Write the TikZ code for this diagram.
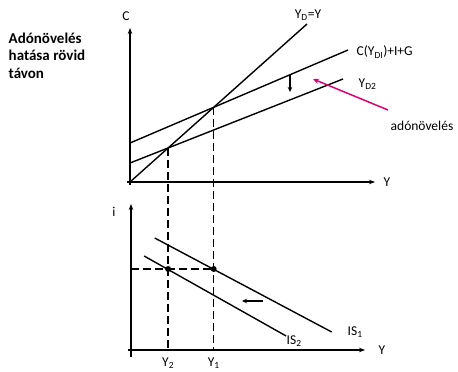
\documentclass[tikz,border=0pt]{standalone}
\usepackage{fontspec}
\setmainfont{Carlito}
\usetikzlibrary{arrows.meta,calc}
\definecolor{mag}{RGB}{214,0,112}
\begin{document}
\begin{tikzpicture}[x=1pt,y=-1pt,line width=1.4pt,
  ax/.style={-{Stealth[length=6pt,width=4.5pt]}},
  dsh/.style={dash pattern=on 8pt off 4pt,line width=1.3pt},
  sarrow/.style={-{Stealth[length=5pt,width=4.5pt]},line width=1.2pt},
  lbl/.style={font=\fontsize{13.5}{16}\selectfont,inner sep=0pt},
  ttl/.style={font=\fontsize{15}{17.5}\selectfont\bfseries,inner sep=0pt,align=left}]
\useasboundingbox (0,0) rectangle (458,372);
% title
\node[ttl,anchor=north west] (title) at (8,32) {Adónövelés\\hatása rövid\\távon};
% top panel axes
\coordinate (cbot) at (130,185);
\coordinate (ctop) at (130,28);
\coordinate (yleft) at (127,182);
\coordinate (yright) at (375,182);
\draw[ax] (cbot) -- (ctop);
\draw[ax] (yleft) -- (yright);
\node[lbl] (Clab) at (126,16) {C};
\node[lbl] (Ylab) at (387,182) {Y};
% lines
\coordinate (d0) at (130,182); \coordinate (d1) at (307,24);
\coordinate (u0) at (130,143); \coordinate (u1) at (348,50);
\coordinate (l0) at (130,163); \coordinate (l1) at (343,79);
\draw (d0) -- (d1);
\draw (u0) -- (u1);
\draw (l0) -- (l1);
\coordinate (E1) at (intersection of d0--d1 and u0--u1);
\coordinate (E2) at (intersection of d0--d1 and l0--l1);
\node[lbl] (YDY) at (308,15) {Y\textsubscript{D}=Y};
\node[lbl,anchor=west] (AD) at (356,52) {C(Y\textsubscript{DI})+I+G};
\node[lbl,anchor=west] (YD2) at (358,84) {Y\textsubscript{D2}};
\node[lbl,anchor=west] (adon) at (390,126) {adónövelés};
% arrows top
\coordinate (da0) at (290,75); \coordinate (da1) at (290,92);
\draw[sarrow] (da0) -- (da1);
\coordinate (m0) at (388,110); \coordinate (m1) at (313,79);
\draw[mag,line width=1.5pt,-{Stealth[length=6pt,width=5pt]}] (m0) -- (m1);
% lower panel axes
\coordinate (ibot) at (131,357);
\coordinate (itop) at (131,204);
\coordinate (bleft) at (128,350);
\coordinate (bright) at (365,350);
\draw[ax] (ibot) -- (itop);
\draw[ax] (bleft) -- (bright);
\node[lbl] (ilab) at (114,212) {i};
\node[lbl] (Y2lab) at (382,350) {Y};
% dashed and points
\coordinate (base) at (0,350);
\coordinate (lvl) at (0,269);
\coordinate (iax) at (131,269);
\coordinate (P1) at (E1 |- lvl);
\coordinate (P2) at (E2 |- lvl);
\draw[dsh] (E1) -- (E1 |- base);
\draw[dsh] (E2) -- (E2 |- base);
\draw[dsh] (iax) -- (P1);
% IS curves
\draw ($(P1)+(-59,-31)$) -- ($(P1)+(118,63)$);
\draw ($(P2)+(-24,-13)$) -- ($(P2)+(118,67)$);
\fill (P1) circle (3pt);
\fill (P2) circle (3pt);
\node[lbl,anchor=west] (IS1) at (347,332) {IS\textsubscript{1}};
\node[lbl,anchor=west] (IS2) at (286,341) {IS\textsubscript{2}};
\node[lbl] (Ya) at ($(E2 |- base)+(0,13)$) {Y\textsubscript{2}};
\node[lbl] (Yb) at ($(E1 |- base)+(0,13)$) {Y\textsubscript{1}};
\coordinate (la0) at (263,301); \coordinate (la1) at (242,301);
\draw[sarrow] (la0) -- (la1);
\end{tikzpicture}
\end{document}
